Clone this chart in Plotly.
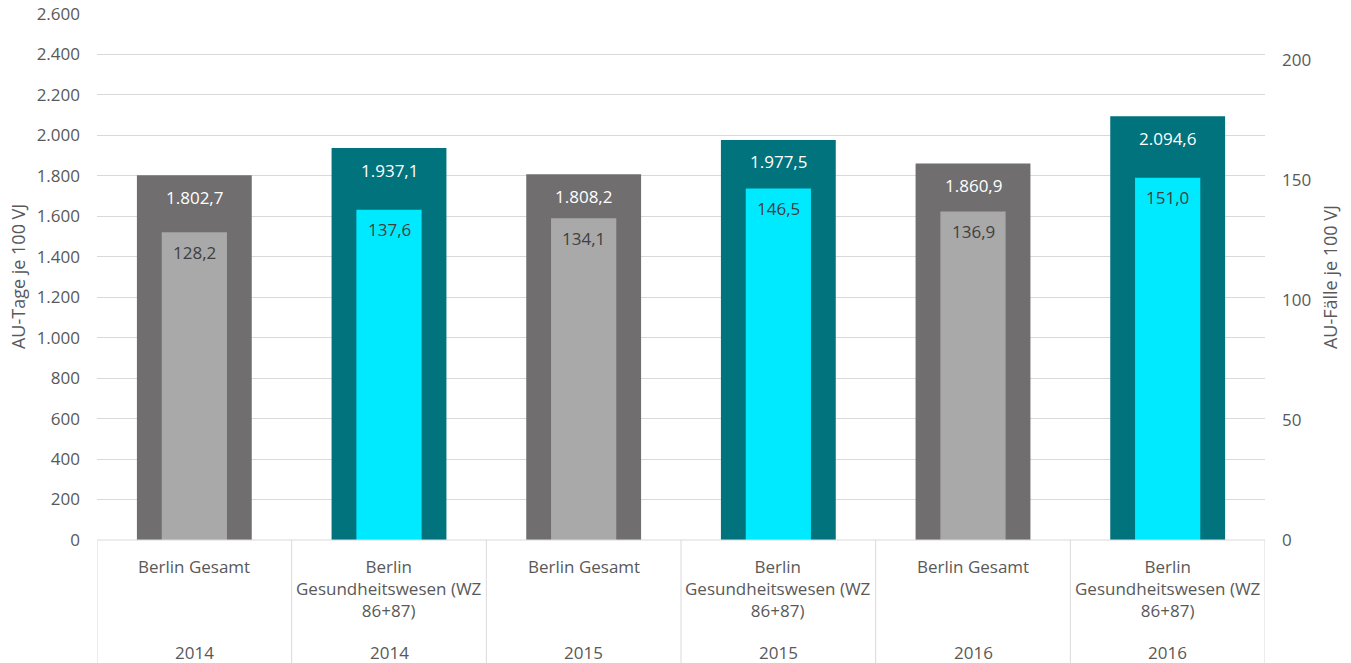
import plotly.graph_objects as go

groups = ["Berlin Gesamt", "Berlin<br>Gesundheitswesen (WZ<br>86+87)"] * 3
years = ["2014", "2014", "2015", "2015", "2016", "2016"]
au_tage = [1802.7, 1937.1, 1808.2, 1977.5, 1860.9, 2094.6]
au_faelle = [128.2, 137.6, 134.1, 146.5, 136.9, 151.0]
left_ticks = [0, 200, 400, 600, 800, 1000, 1200, 1400, 1600, 1800, 2000, 2200, 2400, 2600]
right_ticks = [0, 50, 100, 150, 200]
left_max = 2600
right_max = 219.2

dark_colors = ["#716E6F", "#00737D"] * 3
light_colors = ["#A9A9A9", "#00EAFF"] * 3

FONT = "Open Sans"
TXT = "#595959"
FS = 17
x = list(range(len(groups)))


def de(v, dec=1):
    s = f"{v:,.{dec}f}"
    return s.replace(",", "X").replace(".", ",").replace("X", ".")


fig = go.Figure()
fig.add_trace(go.Bar(x=x, y=au_tage, width=0.59, marker=dict(color=dark_colors, line=dict(width=0)),
                     yaxis="y", showlegend=False, hoverinfo="y"))
fig.add_trace(go.Bar(x=x, y=au_faelle, width=0.335, marker=dict(color=light_colors, line=dict(width=0)),
                     yaxis="y2", showlegend=False, hoverinfo="y"))

ann = []
for i in x:
    ann.append(dict(x=i, y=au_tage[i], xref="x", yref="y", text=de(au_tage[i]), showarrow=False,
                    yshift=-22, font=dict(family=FONT, size=FS, color="white")))
    ann.append(dict(x=i, y=au_faelle[i], xref="x", yref="y2", text=de(au_faelle[i]), showarrow=False,
                    yshift=-20, font=dict(family=FONT, size=FS, color="#404040")))
    ann.append(dict(x=i, y=-0.025, xref="x", yref="paper", text=groups[i], showarrow=False,
                    yanchor="top", font=dict(family=FONT, size=FS, color=TXT)))
    ann.append(dict(x=i, y=-0.189, xref="x", yref="paper", text=years[i], showarrow=False,
                    yanchor="top", font=dict(family=FONT, size=FS, color=TXT)))

ann.append(dict(x=-0.0676, y=0.5, xref="paper", yref="paper", text="AU-Tage je 100 VJ", textangle=-90,
                xanchor="center", yanchor="middle",
                showarrow=False, font=dict(family=FONT, size=18, color=TXT)))
ann.append(dict(x=1.0557, y=0.5, xref="paper", yref="paper", text="AU-Fälle je 100 VJ", textangle=-90,
                xanchor="center", yanchor="middle",
                showarrow=False, font=dict(family=FONT, size=18, color=TXT)))

shapes = []
for b in [i - 0.5 for i in x] + [len(x) - 0.5]:
    shapes.append(dict(type="line", xref="x", yref="paper", x0=b, x1=b, y0=0, y1=-0.3,
                       line=dict(color="#D9D9D9", width=1)))
shapes.append(dict(type="line", xref="paper", yref="paper", x0=0, x1=1, y0=0, y1=0,
                   line=dict(color="#D9D9D9", width=1)))

fig.update_layout(
    width=1351, height=663,
    margin=dict(l=97, r=86, t=14, b=123),
    paper_bgcolor="white", plot_bgcolor="white",
    separators=",.",
    barmode="overlay",
    font=dict(family=FONT, size=FS, color=TXT),
    xaxis=dict(range=[-0.5, len(x) - 0.5], showticklabels=False, showgrid=False, zeroline=False,
               showline=False, ticks="", automargin=False),
    yaxis=dict(range=[0, left_max], tickvals=left_ticks, tickformat=",d", showgrid=True,
               gridcolor="#D9D9D9", gridwidth=1, zeroline=False, showline=False, automargin=False,
               ticklabelstandoff=16, tickfont=dict(family=FONT, size=FS, color=TXT)),
    yaxis2=dict(range=[0, right_max], overlaying="y", side="right", tickvals=right_ticks,
                showgrid=False, zeroline=False, showline=False, automargin=False,
                ticklabelstandoff=16, tickfont=dict(family=FONT, size=FS, color=TXT)),
    annotations=ann,
    shapes=shapes,
)

fig.write_html("out.html", config={"displayModeBar": False},
               post_script="document.body.style.margin='0';document.body.style.overflow='hidden';")
